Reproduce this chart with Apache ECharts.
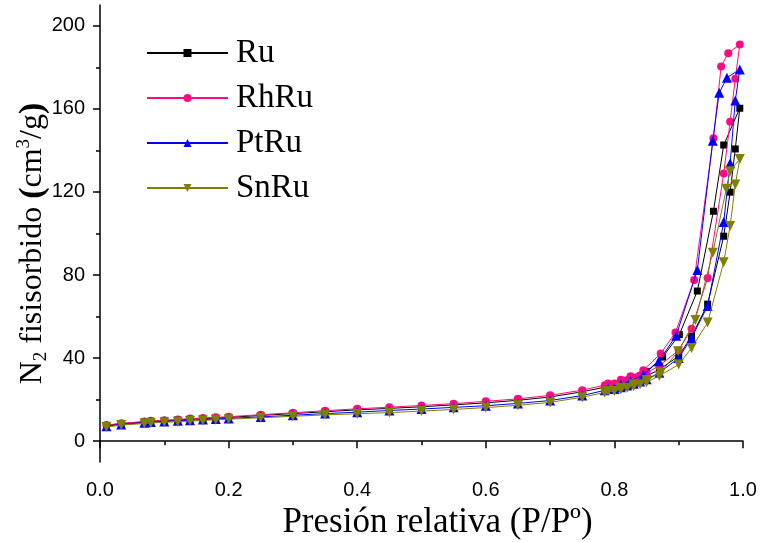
<!DOCTYPE html>
<html><head><meta charset="utf-8">
<script src="https://cdn.jsdelivr.net/npm/echarts@6/dist/echarts.min.js"></script>
<style>html,body{margin:0;padding:0;background:#fff}#c{width:762px;height:542px}</style>
</head><body><div id="c"></div>
<script>
// Relative pressure (adsorption branch, shared)
const P_ADS = [0.01,0.033,0.069,0.079,0.10,0.121,0.14,0.16,0.18,0.20,0.25,0.30,0.35,0.40,0.45,0.50,0.55,0.60,0.65,0.70,0.75,0.785,0.80,0.81,0.82,0.83,0.84,0.85,0.87,0.90,0.92,0.945,0.97,0.98,0.988,0.995];
const RU_ADS   = [7.6,8.5,9.3,9.6,9.9,10.3,10.6,10.9,11.2,11.5,12.4,13.3,14.2,15.1,15.8,16.6,17.5,18.5,19.7,21.3,23.8,26.0,26.8,27.6,28.4,29.3,30.3,31.4,34.5,41.0,50.5,66.0,98.7,119.9,140.7,160.3];
const RHRU_ADS = [7.8,8.6,9.5,9.8,10.1,10.5,10.9,11.2,11.5,11.8,12.8,13.7,14.7,15.6,16.4,17.2,18.1,19.2,20.4,22.1,24.6,27.0,27.8,28.6,29.5,30.5,31.6,32.8,36.5,43.7,54.1,78.6,128.9,153.8,174.5,191.0];
const PTRU_ADS = [7.2,8.1,8.9,9.2,9.5,9.8,10.1,10.4,10.7,11.0,11.7,12.5,13.3,14.0,14.8,15.5,16.3,17.1,18.2,19.6,22.0,24.5,25.2,26.0,26.8,27.7,28.7,29.8,33.0,40.1,49.7,65.1,105.5,133.8,164.0,179.0];
const SNRU_ADS = [6.8,7.8,8.5,8.8,9.1,9.4,9.7,10.0,10.3,10.6,11.3,12.0,12.7,13.2,13.8,14.5,15.3,16.2,17.3,18.7,21.2,23.5,24.2,24.9,25.7,26.5,27.4,28.4,31.5,36.9,44.9,57.1,86.2,103.6,123.6,135.9];
// Desorption branches
const RU_DES_P   = [0.97,0.954,0.929,0.901,0.875,0.85,0.83,0.81,0.79];
const RU_DES     = [142.6,110.7,72.3,51.3,40.5,33.5,30.0,28.0,26.5];
const RHRU_DES_P = [0.977,0.966,0.954,0.924,0.895,0.872,0.845,0.825,0.81,0.79];
const RHRU_DES   = [186.8,180.4,145.8,77.6,52.4,42.2,34.2,31.3,29.6,27.8];
const PTRU_DES_P = [0.975,0.963,0.953,0.929,0.896,0.869,0.845,0.825,0.81,0.79];
const PTRU_DES   = [175.0,167.7,144.7,82.4,50.8,38.5,32.0,29.0,27.3,25.5];
const SNRU_DES_P = [0.98,0.974,0.953,0.926,0.899,0.872,0.85,0.83,0.81,0.79];
const SNRU_DES   = [130.0,121.5,90.7,58.4,43.3,33.0,29.5,27.4,25.8,24.3];
const NAMES = ['Ru','RhRu','PtRu','SnRu'];
const Y_MAJOR = [0,40,80,120,160,200];
const Y_MINOR = [20,60,100,140,180];

function loop(ads, dp, dv){
  const d = P_ADS.map((p,i)=>[p, ads[i]]);
  dp.forEach((p,i)=>d.push([p, dv[i]]));
  return d;
}
const serif = 'Liberation Serif, Times New Roman, serif';
const sans = 'Liberation Sans, Arial, sans-serif';
const colors = ['#000000','#FF0A84','#0000FF','#808000'];
const symbols = ['rect','circle','triangle','path://M0,0 L10,0 L5,9 Z'];
const sizes = [7,8,10,10];
const datas = [loop(RU_ADS,RU_DES_P,RU_DES), loop(RHRU_ADS,RHRU_DES_P,RHRU_DES), loop(PTRU_ADS,PTRU_DES_P,PTRU_DES), loop(SNRU_ADS,SNRU_DES_P,SNRU_DES)];

const chart = echarts.init(document.getElementById('c'), null, {renderer:'canvas'});
const axisLine = {show:true, lineStyle:{color:'#000', width:1.5}};
chart.setOption({
  animation:false,
  backgroundColor:'#fff',
  grid:[{left:100,right:19,top:5,bottom:80,outerBoundsMode:'none',containLabel:false},
        {left:100,right:19,top:5,bottom:80,outerBoundsMode:'none',containLabel:false}],
  legend:{
    orient:'vertical', left:146, top:36, padding:0, itemWidth:81, itemHeight:10, itemGap:11,
    textStyle:{fontFamily:serif, fontSize:33, color:'#000', lineHeight:34, padding:[0,0,0,3]},
    data:NAMES
  },
  xAxis:[{
    type:'value', min:0, max:1, interval:0.2, gridIndex:0,
    axisLine:axisLine,
    axisTick:{show:true, inside:false, length:7, lineStyle:{color:'#000',width:1.5}},
    minorTick:{show:true, splitNumber:2, length:4, lineStyle:{color:'#000',width:1.5}},
    splitLine:{show:false},
    axisLabel:{fontFamily:sans, fontSize:20, color:'#000', margin:18, formatter:v=>v.toFixed(1)},
    name:'Presión relativa (P/Pº)', nameLocation:'middle', nameGap:43, nameMoveOverlap:false,
    nameTextStyle:{fontFamily:serif, fontSize:35, color:'#000', padding:[0,0,0,32]}
  },{
    type:'value', min:0, max:1, gridIndex:1, show:false
  }],
  yAxis:[{
    type:'value', min:-10, max:210, gridIndex:0,
    axisLine:axisLine,
    axisTick:{show:true, inside:false, length:7, customValues:Y_MAJOR, lineStyle:{color:'#000',width:1.5}},
    splitLine:{show:false},
    axisLabel:{fontFamily:sans, fontSize:20, color:'#000', margin:15, customValues:Y_MAJOR},
    name:'{a|N}{sub|2}{a| fisisorbido }{p|(}{a|cm}{sup|3}{a|/g}{p|)}', nameLocation:'middle', nameGap:49, nameMoveOverlap:false,
    nameTextStyle:{padding:[0,0,0,-20], rich:{
      a:{fontFamily:serif, fontSize:32, color:'#000', lineHeight:36},
      p:{fontFamily:serif, fontSize:34, fontWeight:'bold', color:'#000', lineHeight:36},
      sub:{fontFamily:serif, fontSize:19, color:'#000', lineHeight:18, verticalAlign:'bottom'},
      sup:{fontFamily:serif, fontSize:19, color:'#000', lineHeight:18, verticalAlign:'top'}
    }}
  },{
    type:'value', min:-10, max:210, gridIndex:1, position:'left',
    axisLine:{show:false},
    axisTick:{show:true, inside:false, length:4, customValues:Y_MINOR, lineStyle:{color:'#000',width:1.5}},
    axisLabel:{show:false}, splitLine:{show:false}
  }],
  series: NAMES.map((n,i)=>({
    name:n, type:'line', xAxisIndex:0, yAxisIndex:0,
    data:datas[i], symbol:symbols[i], symbolSize:sizes[i], showSymbol:true,
    lineStyle:{color:colors[i], width:1}, itemStyle:{color:colors[i]},
    z:2+i
  }))
});
</script></body></html>
